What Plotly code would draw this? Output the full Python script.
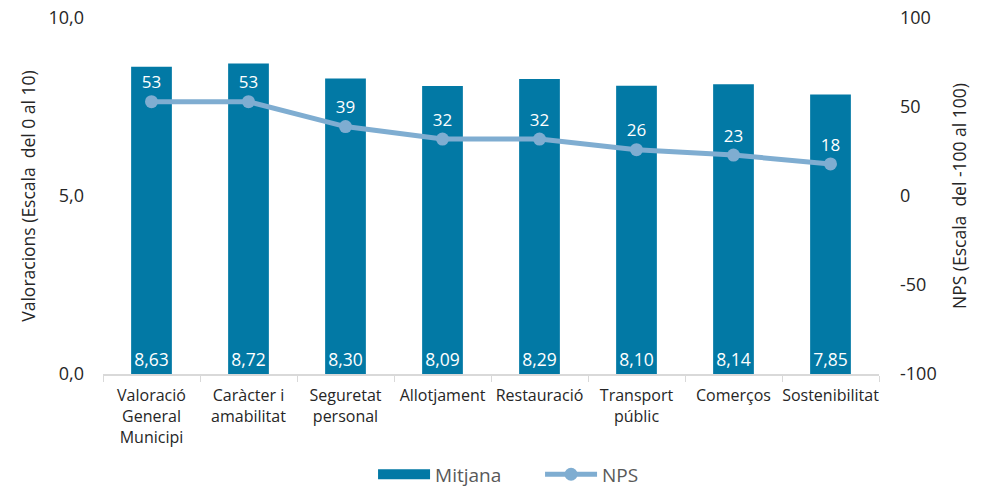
import plotly.graph_objects as go

categories = [
    "Valoració<br>General<br>Municipi",
    "Caràcter i<br>amabilitat",
    "Seguretat<br>personal",
    "Allotjament",
    "Restauració",
    "Transport<br>públic",
    "Comerços",
    "Sostenibilitat",
]
mitjana = [8.63, 8.72, 8.30, 8.09, 8.29, 8.10, 8.14, 7.85]
nps = [53, 53, 39, 32, 32, 26, 23, 18]

left_ticks = [0, 5, 10]
left_tick_text = ["0,0", "5,0", "10,0"]
right_ticks = [-100, -50, 0, 50, 100]
right_tick_text = ["-100", "-50", "0", "50", "100"]

FONT = "Open Sans, Lato, sans-serif"
BAR_COLOR = "#0279A5"
LINE_COLOR = "#7FADD1"
TEXT_COLOR = "#262626"

fig = go.Figure()

fig.add_trace(go.Bar(
    x=categories,
    y=mitjana,
    name="Mitjana",
    showlegend=False,
    marker=dict(color=BAR_COLOR, line=dict(width=0)),
    width=0.42,
    texttemplate="%{y:.2f}",
    textposition="inside",
    insidetextanchor="start",
    textangle=0,
    textfont=dict(color="white", size=17.5, family=FONT),
    yaxis="y",
))

# legend entry for the bars, drawn as a wide rectangle swatch
fig.add_trace(go.Scatter(
    x=[None],
    y=[None],
    name="Mitjana",
    mode="lines",
    line=dict(color=BAR_COLOR, width=14),
    yaxis="y",
))

fig.add_trace(go.Scatter(
    x=categories,
    y=nps,
    name="NPS",
    mode="lines+markers+text",
    line=dict(color=LINE_COLOR, width=5),
    marker=dict(color=LINE_COLOR, size=13),
    text=[str(v) for v in nps],
    textposition="top center",
    textfont=dict(color="white", size=17, family=FONT),
    yaxis="y2",
))

fig.update_layout(
    width=988,
    height=489,
    margin=dict(l=103, r=109, t=18, b=115, autoexpand=False),
    paper_bgcolor="white",
    plot_bgcolor="white",
    separators=",.",
    font=dict(family=FONT, size=14, color=TEXT_COLOR),
    bargap=0.58,
    showlegend=True,
    legend=dict(
        orientation="h",
        x=0.348,
        xanchor="left",
        y=-0.282,
        yanchor="middle",
        font=dict(size=19, color="#595959"),
        itemwidth=52,
        entrywidth=100,
        traceorder="normal",
    ),
    xaxis=dict(
        showgrid=False,
        showline=True,
        linecolor="#D9D9D9",
        linewidth=1.5,
        ticks="outside",
        tickson="boundaries",
        ticklen=6,
        tickcolor="#D9D9D9",
        tickangle=0,
        ticklabelstandoff=6,
        tickfont=dict(size=16, color=TEXT_COLOR),
    ),
    yaxis=dict(
        range=[0, 10],
        tickvals=left_ticks,
        ticktext=left_tick_text,
        showgrid=False,
        zeroline=False,
        showline=False,
        ticks="",
        ticklabelstandoff=18,
        tickfont=dict(size=18, color=TEXT_COLOR),
        title=dict(text="Valoracions (Escala  del 0 al 10)", font=dict(size=17.5, color=TEXT_COLOR), standoff=8),
    ),
    yaxis2=dict(
        range=[-100, 100],
        tickvals=right_ticks,
        ticktext=right_tick_text,
        overlaying="y",
        side="right",
        showgrid=False,
        zeroline=False,
        showline=False,
        ticks="",
        ticklabelstandoff=20,
        tickfont=dict(size=18, color=TEXT_COLOR),
        title=dict(text="NPS (Escala  del -100 al 100)", font=dict(size=17.5, color=TEXT_COLOR), standoff=18),
    ),
)

fig.write_html("out.html")
